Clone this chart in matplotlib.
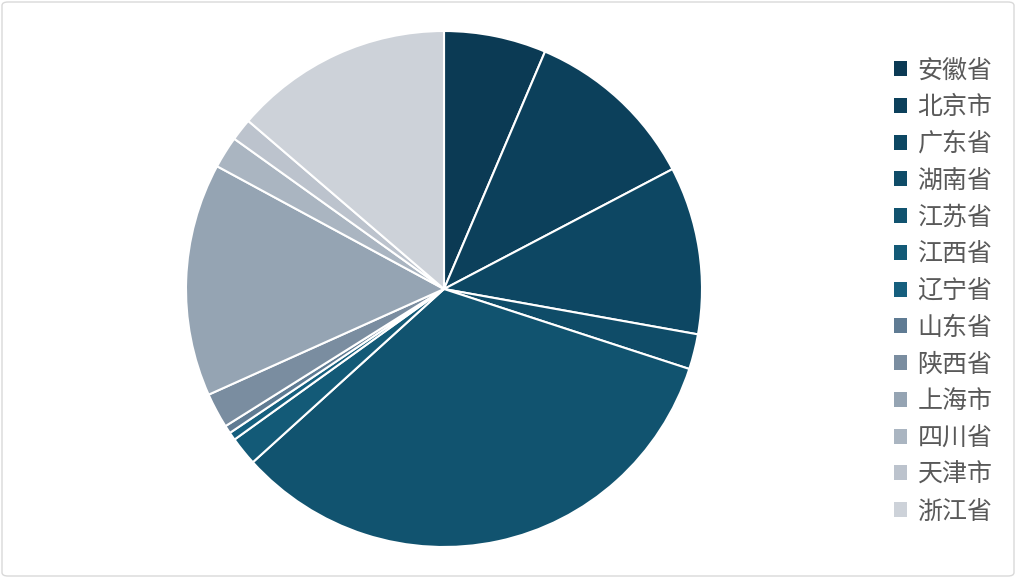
import matplotlib.pyplot as plt
from matplotlib.patches import FancyBboxPatch, Patch

plt.rcParams['font.family'] = ['Noto Sans CJK SC', 'DejaVu Sans']

# 数据
labels = ['安徽省', '北京市', '广东省', '湖南省', '江苏省', '江西省', '辽宁省',
          '山东省', '陕西省', '上海市', '四川省', '天津市', '浙江省']
values = [6.4, 10.9, 10.5, 2.2, 33.25, 1.8, 0.5, 0.5, 2.2, 14.6, 2.0, 1.4, 13.7]
colors = ['#0b3a54', '#0c405b', '#0d4763', '#0f4c68', '#11536f', '#135a77', '#165f7e',
          '#5f7b93', '#7a8da0', '#95a4b3', '#aab5c1', '#bcc3cd', '#cdd2d9']

W, H = 1016, 578
fig = plt.figure(figsize=(W / 100, H / 100), dpi=100)

# borde de la figura
fig.patches.append(FancyBboxPatch((2 / W, 2 / H), 1 - 4 / W, 1 - 4 / H,
                                  boxstyle='round,pad=0,rounding_size=0.006',
                                  transform=fig.transFigure, fill=False,
                                  edgecolor='#d9d9d9', linewidth=1))

cx, cy, r = 444, 289, 258
ax = fig.add_axes([(cx - r) / W, (H - cy - r) / H, 2 * r / W, 2 * r / H])
ax.pie(values, colors=colors, startangle=90, counterclock=False,
       wedgeprops=dict(edgecolor='white', linewidth=1.5))
ax.set_xlim(-1, 1)
ax.set_ylim(-1, 1)
ax.set_aspect('equal')

handles = [Patch(facecolor=c, edgecolor='none') for c in colors]
leg = fig.legend(handles, labels, loc='upper left', bbox_to_anchor=(871 / W, 1 - 35 / H),
                 frameon=False, fontsize=18, handlelength=0.54, handleheight=0.54,
                 handletextpad=0.42, labelspacing=0.43, labelcolor='#595959')

plt.savefig('out.png', dpi=100)
